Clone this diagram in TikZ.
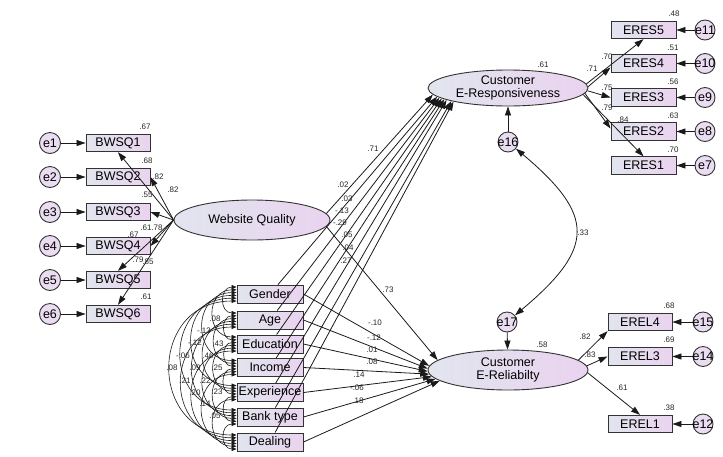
\documentclass[tikz,border=0pt]{standalone}
\usepackage{fontspec}
\setmainfont{Liberation Sans}
\usetikzlibrary{shapes.geometric,arrows.meta,calc}
\definecolor{shL}{HTML}{E1E5EE}
\definecolor{shR}{HTML}{EAD3EF}
\definecolor{errF}{HTML}{EADDF1}
\definecolor{lnC}{HTML}{1A1A1A}
\newcommand{\ez}[1]{\makebox[0pt][c]{#1}}
\begin{document}
\begin{tikzpicture}[x=1pt,y=1pt,
 obs/.style={rectangle,draw=black!80,line width=0.9pt,left color=shL,right color=shR,minimum width=65pt,minimum height=17.5pt,inner sep=0pt,font=\fontsize{12.5}{14}\selectfont},
 lat/.style={ellipse,draw=black!80,line width=0.9pt,left color=shL,right color=shR,inner sep=0pt,align=center,font=\fontsize{12.5}{13.5}\selectfont},
 err/.style={circle,draw=black!80,line width=0.9pt,fill=errF,minimum size=21pt,inner sep=0pt,font=\fontsize{12.5}{14}\selectfont},
 num/.style={font=\fontsize{8}{9}\selectfont,text=black!85,inner sep=0pt},
 pth/.style={draw=lnC,line width=0.8pt,-{Triangle[length=9pt,width=6pt]}},
 cov/.style={draw=lnC,line width=0.6pt,{Triangle[length=5pt,width=4pt]}-{Triangle[length=5pt,width=4pt]}},
 covb/.style={draw=lnC,line width=0.8pt,{Triangle[length=9pt,width=6pt]}-{Triangle[length=9pt,width=6pt]}}
]
\path[use as bounding box] (0,0) rectangle (723,-456);

% ---------- Website Quality block
\foreach \k/\y in {1/143,2/177,3/212,4/246,5/280,6/314}{
  \node[err] (e\k) at (50,-\y) {\ez{e\k}};
  \node[obs,minimum width=64pt] (b\k) at (118,-\y) {BWSQ\k};
  \draw[pth] (e\k) -- (b\k);
}
\node[lat,minimum width=156pt,minimum height=40pt] (wq) at (252,-220) {Website Quality};
\draw[pth] (wq.west) -- (b1.south);
\draw[pth] (wq.west) -- (b2.east);
\draw[pth] (wq.west) -- (b3.east);
\draw[pth] (wq.west) -- (b4.east);
\draw[pth] (wq.west) -- (b5.north);
\draw[pth] (wq.west) -- (b6.north);

% ---------- Customer E-Responsiveness block
\node[lat,minimum width=160pt,minimum height=36pt] (cer) at (508,-88) {Customer\\E-Responsiveness};
\foreach \k/\y/\e in {5/30/11,4/63.5/10,3/97.5/9,2/131.5/8,1/165.5/7}{
  \node[obs] (r\k) at (643.5,-\y) {ERES\k};
  \node[err,minimum size=20pt] (e\e) at (705,-\y) {\ez{e\e}};
  \draw[pth] (e\e) -- (r\k);
}
\draw[pth] (cer.3) -- (r5.south);
\draw[pth] (cer.1) -- ([yshift=-4pt]r4.west);
\draw[pth] (cer.-2) -- (r3.west);
\draw[pth] (cer.-4) -- ([yshift=3pt]r2.west);
\draw[pth] (cer.-5) -- (r1.north);

% ---------- Customer E-Reliability block
\node[lat,minimum width=160pt,minimum height=40pt] (cerel) at (508,-370) {Customer\\E-Reliabilty};
\foreach \k/\y/\e in {4/322/15,3/356.5/14,1/424/12}{
  \node[obs,minimum width=64pt] (l\k) at (640,-\y) {EREL\k};
  \node[err,minimum size=20pt] (e\e) at (703,-\y) {\ez{e\e}};
  \draw[pth] (e\e) -- (l\k);
}
\draw[pth] (cerel.8) -- (l4.south west);
\draw[pth] (cerel.3) -- (l3.west);
\draw[pth] (cerel.-2) -- (l1.north);

% ---------- disturbances
\node[err,minimum size=20pt] (e16) at (508,-142) {\ez{e16}};
\node[err,minimum size=20pt] (e17) at (507,-322) {\ez{e17}};
\draw[pth] (e16) -- (cer);
\draw[pth] (e17) -- (cerel);
\draw[covb] (e16.-40) to[out=-40,in=40,looseness=1.6] (e17.40);

% ---------- structural paths
\draw[pth] (wq.5) -- (cer.185);
\draw[pth] (wq.-5) -- (cerel.172);

% ---------- control variables
\foreach \k/\y/\t in {1/294/Gender,2/320/Age,3/344/Education,4/367.5/Income,5/392.5/Experience,6/417/Bank type,7/442/Dealing}{
  \node[obs,minimum width=66pt,minimum height=18pt] (c\k) at (270,-\y) {\t};
}
\foreach \k in {1,...,7}{
  \pgfmathsetmacro\aa{186+1.2*\k}
  \pgfmathsetmacro\bb{175+2*\k}
  \draw[pth] (c\k) -- (cer.\aa);
  \draw[pth] (c\k.east) -- (cerel.\bb);
}
\foreach \i in {1,...,6}{
  \pgfmathtruncatemacro\ns{\i+1}
  \foreach \j in {\ns,...,7}{
    \draw[cov] ([yshift={(7-(\j-2)*2.8)*1pt}]c\i.west) to[out=180,in=180,looseness=1.7] ([yshift={(7-(\i-1)*2.8)*1pt}]c\j.west);
  }
}

% ---------- numbers
\foreach \x/\y/\t in {145/127/.67,147/161/.68,158/177/.82,173/190/.82,147/195/.55,146/228/.61,157/228/.78,133/235/.67,138/260/.79,148/262/.85,146/297/.61,
 674/14/.48,673/48/.51,673/82/.56,673/116/.63,673/150/.70,543/65/.61,592/69/.71,607/57/.70,607/88/.75,607/108/.79,623/120/.84,
 542/345/.58,669/306/.68,669/340/.69,669/408/.38,585/337/.82,590/355/.83,622/388/.61,583/233/.33,
 373/149/.71,343/185/.02,347/199/.03,342/211/-.13,340/223/-.29,347/235/.05,348/248/.04,346/261/.27,388/290/.73,
 375/323/-.10,374/338/-.12,372/350/.01,372/362/.08,359/375/.14,357/388/-.06,358/401/.18,
 215/319/.08,204/331/-.13,195/343/-.12,218/344/.43,183/356/-.06,208/356/.46,172/368/.08,195/368/.09,217/368/.25,
 185/381/.21,205/381/.22,195/393/.20,217/392/.23,205/404/.14,215/416/.05}{
  \node[num] at (\x,-\y) {\t};
}
\end{tikzpicture}
\end{document}
